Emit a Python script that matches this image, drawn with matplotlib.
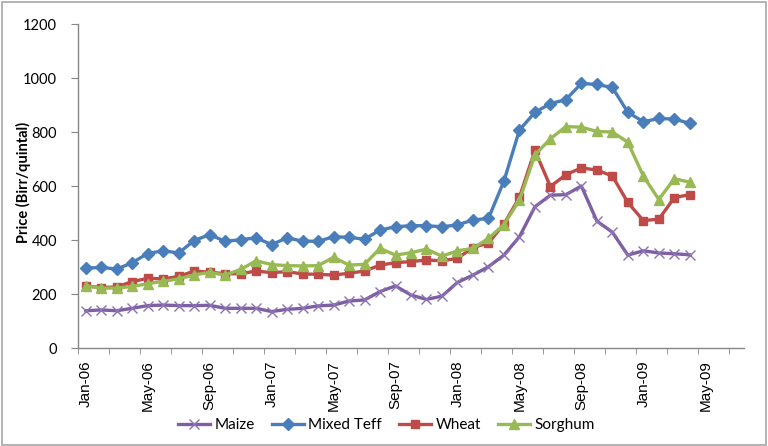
"""Monthly grain prices, Jan-06 to Apr-09."""
import matplotlib
matplotlib.use('Agg')
import matplotlib.pyplot as plt
from matplotlib.patches import Rectangle

# Month labels shown on the axis (every 4th month)
tick_labels = ['Jan-06', 'May-06', 'Sep-06', 'Jan-07', 'May-07', 'Sep-07',
               'Jan-08', 'May-08', 'Sep-08', 'Jan-09', 'May-09']

# Prices in Birr/quintal, one value per month from Jan-06 to Apr-09
maize = [138, 141, 138, 147, 157, 159, 157, 157, 158, 147, 147, 147, 135, 143,
         147, 156, 159, 174, 178, 209, 230, 196, 180, 192, 243, 270, 301, 344,
         412, 523, 566, 568, 600, 470, 429, 344, 360, 352, 349, 345]
mixed_teff = [295, 299, 292, 316, 350, 360, 352, 398, 420, 395, 401, 408, 383, 408,
              396, 395, 412, 410, 403, 437, 449, 453, 453, 449, 456, 474, 480, 618,
              807, 873, 905, 920, 980, 976, 965, 873, 838, 850, 848, 832]
wheat = [230, 224, 226, 246, 258, 256, 265, 285, 281, 275, 275, 285, 279, 283,
         274, 273, 270, 277, 285, 307, 316, 320, 326, 323, 332, 372, 389, 459,
         558, 732, 598, 642, 667, 659, 637, 539, 472, 477, 557, 568]
sorghum = [230, 222, 222, 228, 238, 247, 256, 271, 280, 270, 291, 323, 309, 305,
           304, 305, 336, 307, 310, 369, 344, 353, 366, 340, 360, 369, 406, 457,
           547, 715, 775, 820, 818, 802, 800, 762, 637, 550, 627, 614]

n_categories = 43  # axis runs Jan-06 .. Jul-09
months = list(range(len(maize)))

fig = plt.figure(figsize=(7.68, 4.46), dpi=100)
ax = fig.add_axes([78 / 768, 98 / 446, 666 / 768, 324 / 446])

ax.plot(months, maize, color='#7E5FA3', linewidth=2.4, marker='x', markersize=7.5,
        markeredgewidth=1.0, markeredgecolor='#8C74B4', label='Maize', zorder=3)
ax.plot(months, mixed_teff, color='#4A7EBB', linewidth=2.4, marker='D', markersize=6.5,
        label='Mixed Teff', zorder=4)
ax.plot(months, wheat, color='#BE4B48', linewidth=2.4, marker='s', markersize=6,
        label='Wheat', zorder=5)
ax.plot(months, sorghum, color='#98B954', linewidth=2.4, marker='^', markersize=7.5,
        label='Sorghum', zorder=6)

# Axes limits and ticks (ticks between categories, every 2 months)
ax.set_xlim(-0.5, n_categories - 0.5)
ax.set_ylim(0, 1200)
ax.set_yticks(range(0, 1201, 200))
ax.set_xticks(range(0, len(tick_labels) * 4, 4))
ax.set_xticklabels(tick_labels, rotation=90, fontsize=11, family='Liberation Sans')
ax.set_xticks([x - 0.5 for x in range(0, n_categories, 2)], minor=True)
ax.tick_params(axis='x', which='major', length=0, pad=9)
ax.tick_params(axis='x', which='minor', length=4, color='#868686', direction='out')
ax.tick_params(axis='y', length=5, color='#868686', pad=10, labelsize=10.5)
for lbl in ax.get_yticklabels():
    lbl.set_family('Lato')

for side in ['top', 'right']:
    ax.spines[side].set_visible(False)
for side in ['left', 'bottom']:
    ax.spines[side].set_color('#868686')
    ax.spines[side].set_linewidth(1)

ax.set_ylabel('Price (Birr/quintal)', fontsize=10.5, fontweight='bold', family='Lato')
ax.yaxis.set_label_coords(-0.071, 0.51)

fig.legend(loc='center', bbox_to_anchor=(0.503, 0.047), ncol=4, frameon=False,
           prop={'family': 'Lato', 'size': 11}, handlelength=2.1,
           columnspacing=1.1, handletextpad=0.3)

# Grey chart-area border
fig.patches.append(Rectangle((0.002, 0.003), 0.995, 0.993, transform=fig.transFigure,
                             fill=False, edgecolor='#A6A6A6', linewidth=1.2))

fig.savefig('out.png', dpi=100)
